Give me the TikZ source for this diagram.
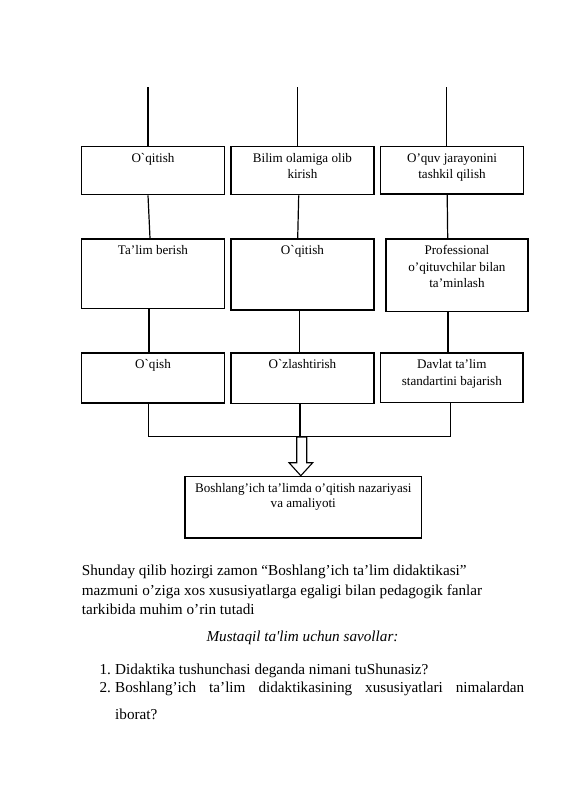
\documentclass[tikz,border=0pt]{standalone}
\usepackage{fontspec}
\newfontfamily\tnr{Liberation Serif}
\newfontfamily\tnri{Liberation Serif Italic}
\begin{document}
\begin{tikzpicture}[x=1pt,y=-1pt,font=\tnr,
  box/.style={draw,line width=1.6pt,inner sep=0pt,anchor=north west},
  lbl/.style={font=\tnr\fontsize{13.1}{16.3}\selectfont,align=center,anchor=north,inner sep=0pt,yshift=-6.3pt},
  lblf/.style={font=\tnr\fontsize{13.1}{14.3}\selectfont,align=center,anchor=north,inner sep=0pt,yshift=-7pt},
  conn/.style={line width=1.2pt},
  body/.style={font=\tnr\fontsize{15.2}{19.5}\selectfont,anchor=base west,inner sep=0pt},
  bigarrow/.style={draw,line width=1.1pt,fill=white,line join=miter}]
\useasboundingbox[fill=white] (0,0) rectangle (565,800);
\newcommand\st{\rule{0pt}{10pt}}
% row 1
\node[box,minimum width=143pt,minimum height=48pt] (b11) at (80.7,145.7) {};
\node[box,minimum width=142.7pt,minimum height=48pt] (b12) at (230.3,145.7) {};
\node[box,minimum width=143pt,minimum height=47.5pt] (b13) at (379.7,145.7) {};
% row 2
\node[box,minimum width=143pt,minimum height=69.4pt] (b21) at (80.7,238.3) {};
\node[box,minimum width=142.7pt,minimum height=70.7pt] (b22) at (230.3,238.3) {};
\node[box,minimum width=142.3pt,minimum height=72.4pt] (b23) at (385,238.3) {};
% row 3
\node[box,minimum width=143pt,minimum height=50pt] (b31) at (80.7,352.3) {};
\node[box,minimum width=142.7pt,minimum height=50.4pt] (b32) at (230.3,352.3) {};
\node[box,minimum width=142.6pt,minimum height=49.4pt] (b33) at (379.7,352.3) {};
% final
\node[box,minimum width=236.4pt,minimum height=61.6pt] (fin) at (184.3,475.7) {};
% labels
\node[lbl] (t11) at (b11.north) {\st O`qitish};
\node[lbl] (t12) at (b12.north) {\st Bilim olamiga olib\\kirish};
\node[lbl] (t13) at (b13.north) {\st O’quv jarayonini\\tashkil qilish};
\node[lbl] (t21) at (b21.north) {\st Ta’lim berish};
\node[lbl] (t22) at (b22.north) {\st O`qitish};
\node[lbl] (t23) at (b23.north) {\st Professional\\o’qituvchilar bilan\\ta’minlash};
\node[lbl] (t31) at (b31.north) {\st O`qish};
\node[lbl] (t32) at (b32.north) {\st O`zlashtirish};
\node[lbl] (t33) at (b33.north) {\st Davlat ta’lim\\standartini bajarish};
\node[lblf] (tf) at (fin.north) {\st Boshlang’ich ta’limda o’qitish nazariyasi\\va amaliyoti};
% top free ends
\coordinate (s1) at (148,87);
\coordinate (s2) at (297.7,87);
\coordinate (s3) at (446.7,87);
\draw[conn] (s1) -- (s1 |- b11.north);
\draw[conn] (s2) -- (s2 |- b12.north);
\draw[conn] (s3) -- (s3 |- b13.north);
% between rows
\draw[conn] (b11.south -| 148,0) -- (b21.north -| 150,0);
\draw[conn] (b12.south -| 298.7,0) -- (b22.north -| 297.7,0);
\draw[conn] (b13.south -| 447.2,0) -- (b23.north -| 447.7,0);
\draw[conn] (b21.south -| 149,0) -- (b31.north -| 149,0);
\draw[conn] (b22.south -| 299.7,0) -- (b32.north -| 299.7,0);
\draw[conn] (b23.south -| 448,0) -- (b33.north -| 448,0);
% collector
\coordinate (j) at (300,436.3);
\draw[conn] (b31.south -| 148.3,0) -- (148.3,436.3) -- (450.3,436.3) -- (b33.south -| 450.3,0);
\draw[conn] (b32.south -| j) -- (j);
% block arrow
\draw[bigarrow] (296.7,437) -- (306.7,437) -- (306.7,462.7) -- (312.7,462.7)
  -- (fin.north -| 300.8,0) -- (289,462.7) -- (296.7,462.7) -- cycle;
% body text
\node[body] (p1) at (81.7,575.5) {Shunday qilib hozirgi zamon “Boshlang’ich ta’lim didaktikasi”};
\node[body] (p2) at (81.7,595) {mazmuni o’ziga xos xususiyatlarga egaligi bilan pedagogik fanlar};
\node[body] (p3) at (81.7,614.5) {tarkibida muhim o’rin tutadi};
\node[body,anchor=base,font=\tnri\fontsize{15.2}{19.5}\selectfont] (h) at (302.5,641.5) {Mustaqil ta'lim uchun savollar:};
\node[body] (n1) at (99.3,674.5) {1.};
\node[body] (i1) at (115,674.5) {Didaktika tushunchasi deganda nimani tuShunasiz?};
\node[body] (n2) at (99.3,692) {2.};
\node[body] (i2) at (115,692) {\makebox[409pt][s]{Boshlang’ich ta’lim didaktikasining xususiyatlari nimalardan}};
\node[body] (i2b) at (115,719) {iborat?};
\end{tikzpicture}
\end{document}
